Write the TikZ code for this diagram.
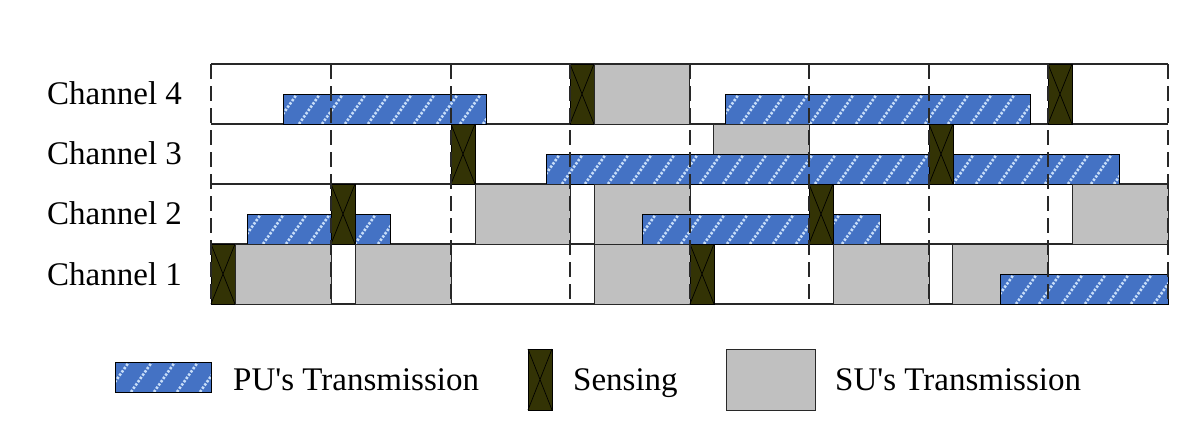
\documentclass[tikz,border=0pt]{standalone}
\usepackage{fontspec}
\setmainfont{Liberation Serif}
\definecolor{publue}{RGB}{68,114,196}
\definecolor{pustripe}{RGB}{200,222,248}
\definecolor{sensecol}{RGB}{51,51,5}
\definecolor{sugray}{RGB}{192,192,192}
\definecolor{lineC}{RGB}{40,40,40}
\newcommand\pubox[4]{%
  \fill[publue] (#1,#2) rectangle (#3,#4);
  \begin{scope}
    \clip (#1,#2) rectangle (#3,#4);
    \pgfmathtruncatemacro\xa{#1-30}
    \pgfmathtruncatemacro\xb{#1-7}
    \foreach \s in {\xa,\xb,...,#3} \draw[stripe] (\s,#4) -- ++(21,-30);
  \end{scope}
  \draw[boxline] (#1,#2) rectangle (#3,#4);
}
\newcommand\sensebox[4]{%
  \filldraw[boxline,fill=sensecol] (#1,#2) rectangle (#3,#4);
  \draw[xline] (#1,#2) -- (#3,#4) (#1,#4) -- (#3,#2);
}
\newcommand\subox[4]{%
  \filldraw[boxline,fill=sugray,draw=lineC] (#1,#2) rectangle (#3,#4);
}
\begin{document}
\begin{tikzpicture}[x=1pt,y=-1pt,
  stripe/.style={pustripe,line width=2.6pt,dash pattern=on 2.4pt off 1.6pt},
  boxline/.style={draw=black,line width=0.9pt},
  xline/.style={black,line width=0.7pt},
  rowline/.style={lineC,line width=1.2pt},
  slotline/.style={lineC,line width=1.3pt,dash pattern=on 15pt off 7pt},
  lbl/.style={font=\fontsize{33}{40}\selectfont,anchor=base west,inner sep=0pt}]
\useasboundingbox (0,0) rectangle (1200,439);
% row lines
\foreach \y in {64,124,184,244,304} \draw[rowline] (211,\y) -- (1168,\y);
% Channel 4
\pubox{283}{94}{486}{124}
\sensebox{570}{64}{594}{124}
\subox{594}{64}{689}{124}
\pubox{725}{94}{1030}{124}
\sensebox{1048}{64}{1072}{124}
% Channel 3
\sensebox{451}{124}{475}{184}
\subox{713}{124}{809}{154}
\pubox{546}{154}{1119}{184}
\sensebox{929}{124}{953}{184}
% Channel 2
\pubox{247}{214}{390}{244}
\sensebox{331}{184}{355}{244}
\subox{475}{184}{570}{244}
\subox{594}{184}{690}{244}
\pubox{642}{214}{880}{244}
\sensebox{809}{184}{833}{244}
\subox{1072}{184}{1168}{244}
% Channel 1
\sensebox{211}{244}{235}{304}
\subox{235}{244}{331}{304}
\subox{355}{244}{451}{304}
\subox{594}{244}{690}{304}
\sensebox{690}{244}{714}{304}
\subox{833}{244}{929}{304}
\subox{952}{244}{1048}{304}
\pubox{1000}{274}{1168}{304}
% slot boundaries
\foreach \x in {211,331,451,570,690,809,929,1048,1168} \draw[slotline] (\x,64) -- (\x,304);
% channel labels
\node[lbl] (c4) at (47,104) {Channel 4};
\node[lbl] (c3) at (47,164) {Channel 3};
\node[lbl] (c2) at (47,224) {Channel 2};
\node[lbl] (c1) at (47,285) {Channel 1};
% legend
\pubox{115}{362}{211}{392}
\node[lbl] (lpu) at (233,390) {PU\textquotesingle s Transmission};
\sensebox{528}{349}{552}{410}
\node[lbl] (lse) at (573,390) {Sensing};
\subox{726}{349}{815}{410}
\node[lbl] (lsu) at (835,390) {SU\textquotesingle s Transmission};
\end{tikzpicture}
\end{document}
